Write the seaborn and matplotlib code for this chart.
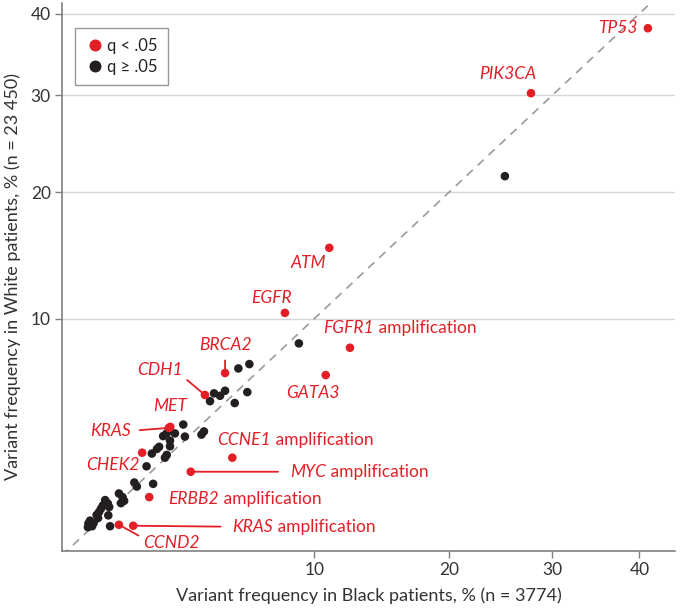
import numpy as np
import pandas as pd
import matplotlib
matplotlib.use("Agg")
import matplotlib.pyplot as plt
import seaborn as sns

# variants with q < .05 (frequency %, Black vs White patients)
red_genes = ["TP53", "PIK3CA", "ATM", "EGFR", "FGFR1", "GATA3", "BRCA2", "CDH1",
             "MET", "KRAS", "CHEK2", "CCNE1", "MYC", "ERBB2", "KRAS", "CCND2"]
red_suffix = ["", "", "", "", " amplification", "", "", "", "", "", "",
              " amplification", " amplification", " amplification", " amplification", ""]
red_x = [41.05, 27.77, 10.94, 8.27, 12.31, 10.71, 5.26, 4.40, 3.10, 3.05, 2.21,
         5.59, 3.84, 2.42, 1.96, 1.59]
red_y = [38.10, 30.24, 15.18, 10.38, 8.18, 6.64, 6.75, 5.62, 4.16, 4.12, 3.14,
         2.96, 2.48, 1.72, 1.03, 1.05]

# variants with q >= .05
black_x = [1.99, 2.06, 2.54, 1.59, 1.68, 1.72, 1.64, 1.27, 1.33, 1.22, 1.18, 1.36,
           1.34, 1.14, 1.09, 1.12, 0.96, 0.93, 1.03, 0.92, 1.00, 1.38, 3.56, 3.26,
           2.98, 2.86, 3.62, 4.26, 4.36, 3.09, 3.09, 2.73, 2.66, 2.50, 2.98, 2.92,
           2.34, 4.78, 5.04, 5.26, 4.61, 5.70, 5.87, 6.40, 6.30, 9.07, 25.16]
black_y = [2.14, 2.02, 2.10, 1.82, 1.72, 1.62, 1.56, 1.64, 1.55, 1.50, 1.42, 1.46,
           1.26, 1.34, 1.27, 1.20, 1.14, 1.08, 1.09, 1.00, 1.02, 1.02, 4.26, 3.89,
           3.90, 3.78, 3.76, 3.84, 3.97, 3.60, 3.38, 3.36, 3.28, 3.11, 3.06, 2.96,
           2.66, 5.70, 5.58, 5.83, 5.32, 5.23, 7.00, 7.24, 5.76, 8.44, 21.52]

ticks = [10, 20, 30, 40]
sig_labels = ["q < .05", "q \u2265 .05"]

# label placement in pixels from the dot: dx, dy, ha, line, relpos, shrink
label_layout = [
    (-10, 0, "right", False, None, 0),
    (5, 19, "right", False, None, 0),
    (-21, -15, "center", False, None, 0),
    (-13, 15, "center", False, None, 0),
    (-27, 20, "left", False, None, 0),
    (-13, -18, "center", False, None, 0),
    (0, 28, "center", True, (0.5, 0.0), 3),
    (-45, 25, "center", True, (1.0, 0.1), 1),
    (0, 21, "center", False, None, 0),
    (-38, -3, "right", True, (1.0, 0.5), 4),
    (-29, -12, "center", False, None, 0),
    (-15, 18, "left", False, None, 0),
    (99, 0, "left", True, (0.0, 0.5), 6),
    (19, -2, "left", False, None, 0),
    (99, -1, "left", True, (0.0, 0.5), 6),
    (24, -18, "left", True, (0.0, 0.8), 1),
]

RED = "#e31e26"
BLACK = "#231f20"
GRAY = "#7f7f7f"

sns.set_theme(style="white")
plt.rcParams["font.family"] = ["Lato", "DejaVu Sans"]

df = pd.DataFrame({
    "black": black_x + red_x,
    "white": black_y + red_y,
    "sig": [sig_labels[1]] * len(black_x) + [sig_labels[0]] * len(red_x),
})

fig = plt.figure(figsize=(6.8, 6.14), dpi=100)
ax = fig.add_axes([62 / 680, 63 / 614, 613 / 680, 548 / 614])
ax.set_xscale("function", functions=(lambda v: np.sqrt(np.clip(v, 0, None)), np.square))
ax.set_yscale("function", functions=(lambda v: np.sqrt(np.clip(v, 0, None)), np.square))

ax.plot([0.5, 41.4], [0.5, 41.4], color="#9a9a9a", lw=1.2, ls=(0, (5, 4)), zorder=1)

sns.scatterplot(data=df, x="black", y="white", hue="sig", hue_order=sig_labels,
                palette=[RED, BLACK], s=38, linewidth=0, ax=ax, zorder=3)

for i, gene in enumerate(red_genes):
    dx, dy, ha, line, relpos, shrink = label_layout[i]
    props = None
    if line:
        props = dict(arrowstyle="-", color=RED, lw=1.3, shrinkA=shrink, shrinkB=0,
                     relpos=relpos)
    ann = ax.annotate(gene, xy=(red_x[i], red_y[i]), xytext=(dx, dy),
                      textcoords="offset pixels", ha=ha, va="center", color=RED,
                      fontsize=12.5, fontstyle="italic", arrowprops=props, zorder=2)
    if red_suffix[i]:
        # upright part glued to the right of the italic gene name
        ax.annotate(red_suffix[i], xy=(1, 0), xycoords=ann, ha="left", va="bottom",
                    color=RED, fontsize=12.5, zorder=2)

ax.set_xlim(0.5, 44.5)
ax.set_ylim(0.567, 41.4)
ax.set_xticks(ticks)
ax.set_yticks(ticks)
ax.set_xticklabels([str(t) for t in ticks])
ax.set_yticklabels([str(t) for t in ticks])
ax.yaxis.grid(True, color="#d6d6d6", lw=1)
ax.xaxis.grid(False)
ax.set_axisbelow(True)
ax.minorticks_off()

for side in ["top", "right"]:
    ax.spines[side].set_visible(False)
for side in ["left", "bottom"]:
    ax.spines[side].set_color(GRAY)
    ax.spines[side].set_linewidth(1.2)
ax.tick_params(axis="both", which="major", length=5, width=1, color=GRAY,
               labelcolor="#333333", labelsize=12.5, pad=3, direction="out",
               bottom=True, left=True)

ax.set_xlabel("Variant frequency in Black patients, % (n = 3774)", fontsize=13,
              color="#333333", labelpad=7)
ax.set_ylabel("Variant frequency in White patients, % (n = 23 450)", fontsize=13,
              color="#333333", labelpad=7)

leg = ax.legend(loc="upper left", bbox_to_anchor=(0.022, 0.954), borderaxespad=0,
                frameon=True, fancybox=False, fontsize=12, markerscale=1.4,
                handletextpad=0.1, borderpad=0.6, labelspacing=0.3, title=None,
                handlelength=1.2)
leg.get_frame().set_edgecolor(GRAY)
leg.get_frame().set_linewidth(1)
for t in leg.get_texts():
    t.set_color("#222222")

fig.savefig("out.png", dpi=100)
